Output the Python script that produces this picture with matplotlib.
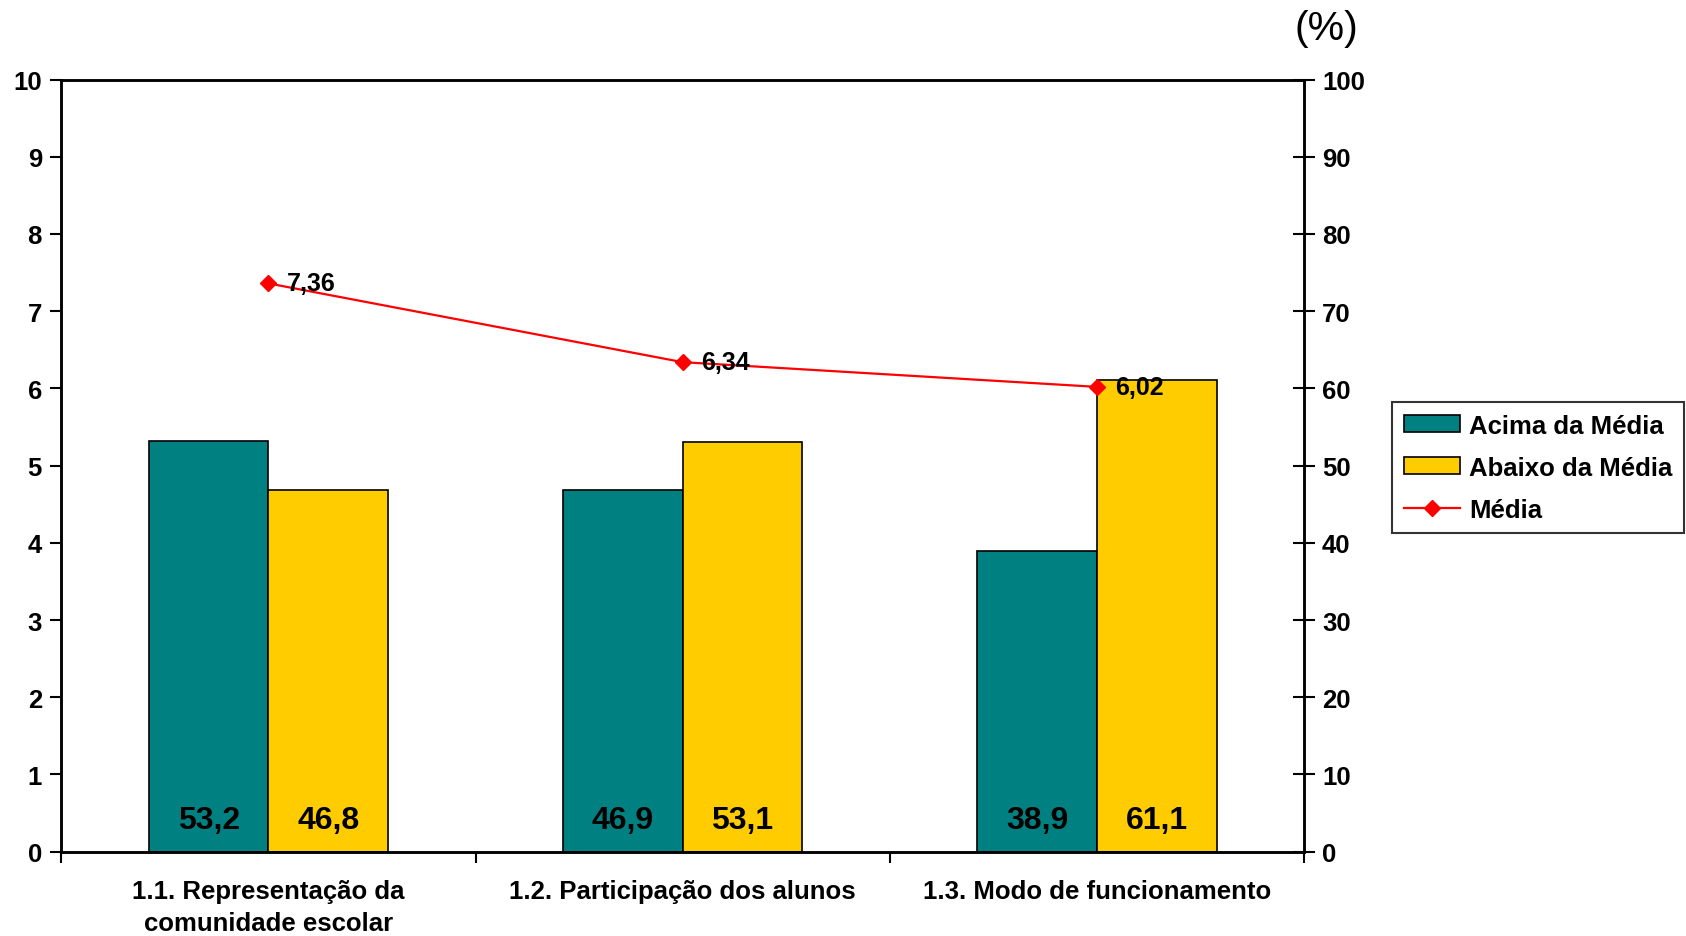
import matplotlib
matplotlib.use("Agg")
import matplotlib.pyplot as plt
import numpy as np
from matplotlib.lines import Line2D
from matplotlib.patches import Patch

plt.rcParams['font.family'] = ['Liberation Sans', 'DejaVu Sans']
plt.rcParams['font.weight'] = 'bold'

categories = ["1.1. Representação da\ncomunidade escolar",
              "1.2. Participação dos alunos",
              "1.3. Modo de funcionamento"]
acima = [53.2, 46.9, 38.9]
abaixo = [46.8, 53.1, 61.1]
media = [7.36, 6.34, 6.02]
acima_labels = ["53,2", "46,9", "38,9"]
abaixo_labels = ["46,8", "53,1", "61,1"]
media_labels = ["7,36", "6,34", "6,02"]
left_ticks = list(range(0, 11))
right_ticks = list(range(0, 101, 10))

TEAL = "#008080"
YELLOW = "#FFCC00"
RED = "#FF0000"

fig = plt.figure(figsize=(16.86, 9.37), dpi=100)
ax = fig.add_axes([0.0364, 0.090, 0.7370, 0.824])  # bars, percent scale (right)
ax2 = ax.twinx()  # line, 0-10 scale (left)

x = np.arange(len(categories))
w = 0.289
ax.bar(x - w / 2, acima, width=w, color=TEAL, edgecolor="black", linewidth=1.2, zorder=2)
ax.bar(x + w / 2, abaixo, width=w, color=YELLOW, edgecolor="black", linewidth=1.2, zorder=2)

for xi, lab in zip(x - w / 2, acima_labels):
    ax.annotate(lab, (xi, 0), xytext=(0, 23), textcoords="offset points",
                ha="center", va="center", fontsize=23, fontweight="bold")
for xi, lab in zip(x + w / 2, abaixo_labels):
    ax.annotate(lab, (xi, 0), xytext=(0, 23), textcoords="offset points",
                ha="center", va="center", fontsize=23, fontweight="bold")

ax2.plot(x, media, color=RED, linewidth=1.6, marker="D", markersize=8,
         markeredgecolor=RED, markerfacecolor=RED, zorder=3)
for xi, yi, lab in zip(x, media, media_labels):
    ax2.annotate(lab, (xi, yi), xytext=(13, 0), textcoords="offset points",
                 ha="left", va="center", fontsize=18, fontweight="bold")

ax.set_xlim(-0.5, len(categories) - 0.5)
ax.set_ylim(0, 100)
ax2.set_ylim(0, 10)

# percent axis on the right
ax.yaxis.tick_right()
ax.set_yticks(right_ticks)
ax.set_yticklabels([str(t) for t in right_ticks], fontsize=18.5, fontweight="bold")
ax.tick_params(axis="y", direction="inout", length=16, width=1.5, pad=5)

# score axis on the left
ax2.yaxis.tick_left()
ax2.set_yticks(left_ticks)
ax2.set_yticklabels([str(t) for t in left_ticks], fontsize=18.5, fontweight="bold")
ax2.tick_params(axis="y", direction="out", length=8, width=1.5, pad=6)

ax.set_xticks(x)
ax.set_xticklabels(categories, fontsize=18.5, fontweight="bold", linespacing=1.38)
ax.tick_params(axis="x", length=0, pad=20)
ax.set_xticks(np.arange(-0.5, len(categories)), minor=True)
ax.tick_params(axis="x", which="minor", direction="out", length=8, width=1.5)

for a in (ax, ax2):
    for s in a.spines.values():
        s.set_linewidth(1.8)
        s.set_color("black")

fig.text(1326 / 1686, 1 - 29 / 937, "(%)", fontsize=29.5, fontweight="normal",
         ha="center", va="center")

handles = [Patch(facecolor=TEAL, edgecolor="black", linewidth=1.2),
           Patch(facecolor=YELLOW, edgecolor="black", linewidth=1.2),
           Line2D([0], [0], color=RED, linewidth=1.6, marker="D", markersize=8,
                  markerfacecolor=RED, markeredgecolor=RED)]
labels = ["Acima da Média", "Abaixo da Média", "Média"]
leg = fig.legend(handles, labels, loc="upper left",
                 bbox_to_anchor=(1392 / 1686, 1 - 403 / 937),
                 bbox_transform=fig.transFigure, fontsize=18.5, frameon=True,
                 fancybox=False, edgecolor="black", handlelength=2.2,
                 handleheight=0.6, borderaxespad=0, borderpad=0.45,
                 labelspacing=0.7, handletextpad=0.35)
leg.get_frame().set_linewidth(1.5)
for t in leg.get_texts():
    t.set_fontweight("bold")

fig.savefig("out.png", dpi=100)
